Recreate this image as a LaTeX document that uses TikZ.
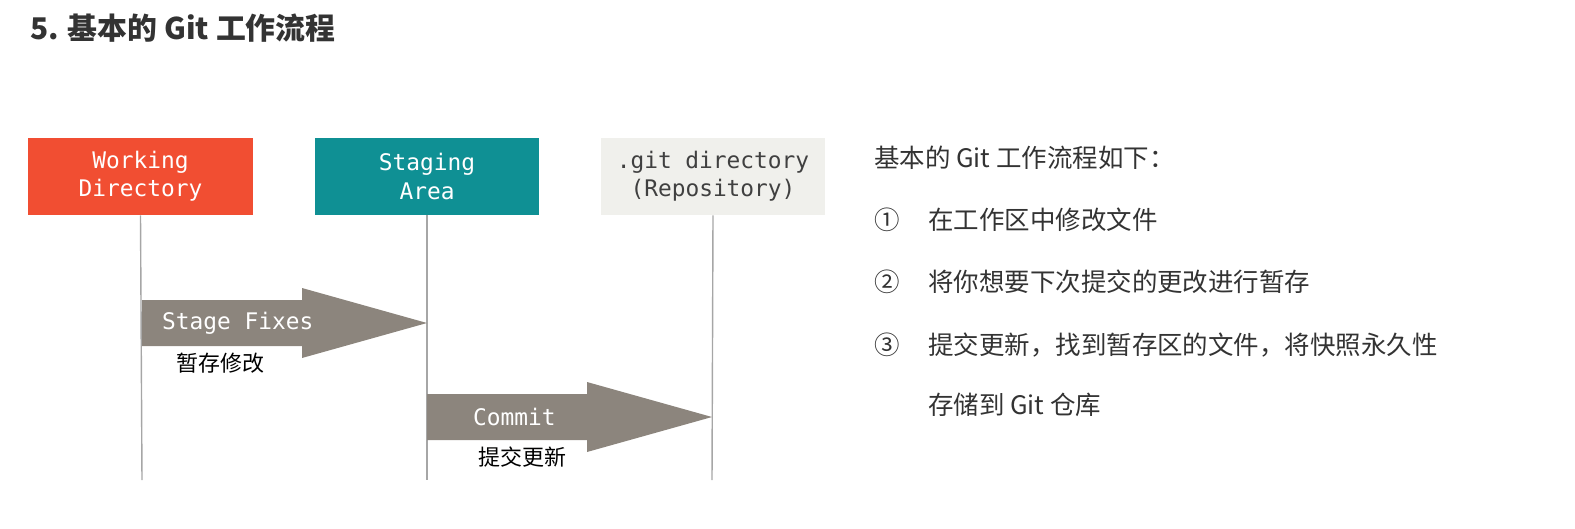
\documentclass[tikz,border=0pt]{standalone}
\usepackage{fontspec}
\setmainfont{Noto Sans CJK SC}
\newfontfamily\cjk{Noto Sans CJK SC}
\newfontfamily\monof{DejaVu Sans Mono}
\definecolor{wd}{HTML}{F14E32}
\definecolor{sa}{HTML}{0F9094}
\definecolor{gd}{HTML}{F0F0EC}
\definecolor{ar}{HTML}{8C857D}
\definecolor{tx}{HTML}{333333}
\begin{document}
\begin{tikzpicture}[x=0.02cm,y=-0.02cm,
  box/.style={minimum width=4.5cm,minimum height=1.54cm,inner sep=0,align=center,font=\monof\fontsize{13}{16}\selectfont},
  life/.style={draw=black!35,line width=0.8pt},
  arrowlbl/.style={font=\monof\fontsize{13}{16}\selectfont,text=white,anchor=west},
  cn/.style={font=\cjk\fontsize{12.5}{15}\selectfont,text=black,anchor=north west},
  rt/.style={font=\cjk\fontsize{14.5}{18}\selectfont,text=tx,anchor=west}]
\useasboundingbox (0,0) rectangle (1575,528);
\node[font=\cjk\bfseries\fontsize{17}{20}\selectfont,text=tx,anchor=west] (title) at (24,28) {5. 基本的 Git 工作流程};
\node[box,fill=wd,text=white] (wdb) at (140.5,176.5) {Working\\Directory};
\node[box,fill=sa,text=white] (sab) at (427,176.5) {Staging\\Area};
\node[box,fill=gd,text=black!75] (gdb) at (713,176.5) {.git directory\\(Repository)};
\coordinate (e1) at (142,480); \coordinate (e2) at (427,480); \coordinate (e3) at (712,480);
\draw[life] (wdb.south) -- (e1);
\draw[life] (sab.south) -- (e2);
\draw[life] (gdb.south) -- (e3);
\fill[ar] (142,300) -- (302,300) -- (302,288) -- (427,323) -- (302,358) -- (302,346) -- (142,346) -- cycle;
\node[arrowlbl] (l1) at (156,323) {Stage Fixes};
\node[cn] (c1) at (170,347) {暂存修改};
\fill[ar] (427,394) -- (587,394) -- (587,382) -- (712,417) -- (587,452) -- (587,440) -- (427,440) -- cycle;
\node[arrowlbl] (l2) at (467,417) {Commit};
\node[cn] (c2) at (472,441) {提交更新};
\node[rt] (h) at (868,158) {基本的 Git 工作流程如下：};
\node[rt] (n1) at (868,220) {①};
\node[rt] (t1) at (922,220) {在工作区中修改文件};
\node[rt] (n2) at (868,282) {②};
\node[rt] (t2) at (922,282) {将你想要下次提交的更改进行暂存};
\node[rt] (n3) at (868,345) {③};
\node[rt] (t3) at (922,345) {提交更新，找到暂存区的文件，将快照永久性};
\node[rt] (t4) at (922,405) {存储到 Git 仓库};
\end{tikzpicture}
\end{document}
